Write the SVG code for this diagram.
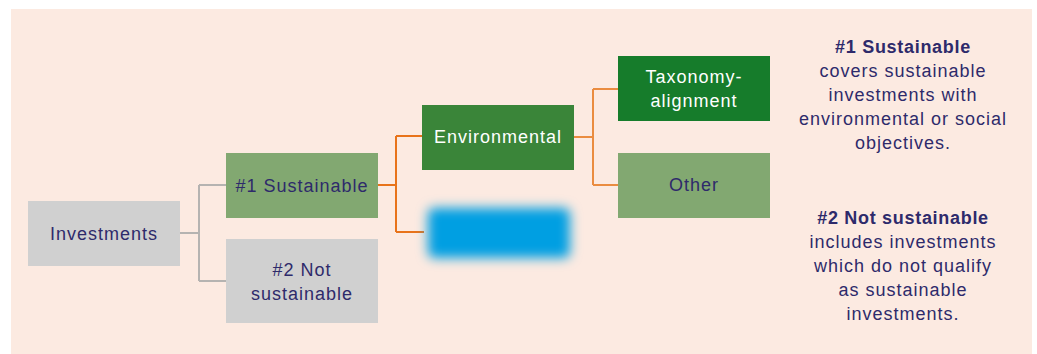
<svg xmlns="http://www.w3.org/2000/svg" width="1037" height="354" viewBox="0 0 1037 354">
<defs>
<filter id="blur" x="-20%" y="-40%" width="140%" height="180%"><feGaussianBlur stdDeviation="6"/></filter>
<style>
text{font-family:"Liberation Sans",Arial,sans-serif;font-size:18px;text-anchor:middle;letter-spacing:1px}
.dk{fill:#2e2a6b}
.wt{fill:#ffffff}
.b{font-weight:bold;letter-spacing:0.7px}
.gl{fill:none;stroke:#b5b3b1;stroke-width:2}
.ol{fill:none;stroke:#e8731a;stroke-width:2}
.ol2{fill:none;stroke:#ea8c40;stroke-width:2}
</style>
</defs>
<rect x="11" y="9" width="1021" height="345" fill="#fceae1"/>
<g id="connectors">
<path class="gl" d="M180 233H199M199 185V281M199 185H226M199 281H226"/>
<path class="ol" d="M378 185H396M396 136V232M396 136H422M396 232H424"/>
<path class="ol2" d="M574 137H593M593 89V185M593 89H618M593 185H618"/>
</g>
<g id="investments"><rect x="28" y="201" width="152" height="65" fill="#d0d0d0"/><text class="dk" x="104" y="240">Investments</text></g>
<g id="sustainable"><rect x="226" y="153" width="152" height="65" fill="#82a871"/><text class="dk" x="302" y="192">#1 Sustainable</text></g>
<g id="not-sustainable"><rect x="226" y="239" width="152" height="84" fill="#d0d0d0"/><text class="dk" x="302" y="276">#2 Not</text><text class="dk" x="302" y="300">sustainable</text></g>
<g id="environmental"><rect x="422" y="105" width="152" height="65" fill="#3a8539"/><text class="wt" x="498" y="143">Environmental</text></g>
<g id="blurred"><rect x="428" y="208" width="142" height="50" rx="6" fill="#069fe2" filter="url(#blur)"/></g>
<g id="taxonomy"><rect x="618" y="56" width="152" height="65" fill="#167c2b"/><text class="wt" x="694" y="83">Taxonomy-</text><text class="wt" x="694" y="107">alignment</text></g>
<g id="other"><rect x="618" y="153" width="152" height="65" fill="#82a871"/><text class="dk" x="694" y="191">Other</text></g>
<g id="legend">
<text class="dk b" x="903" y="53">#1 Sustainable</text>
<text class="dk" x="903" y="77">covers sustainable</text>
<text class="dk" x="903" y="101">investments with</text>
<text class="dk" x="903" y="125">environmental or social</text>
<text class="dk" x="903" y="149">objectives.</text>
<text class="dk b" x="903" y="224">#2 Not sustainable</text>
<text class="dk" x="903" y="248">includes investments</text>
<text class="dk" x="903" y="272">which do not qualify</text>
<text class="dk" x="903" y="296">as sustainable</text>
<text class="dk" x="903" y="320">investments.</text>
</g>
</svg>
